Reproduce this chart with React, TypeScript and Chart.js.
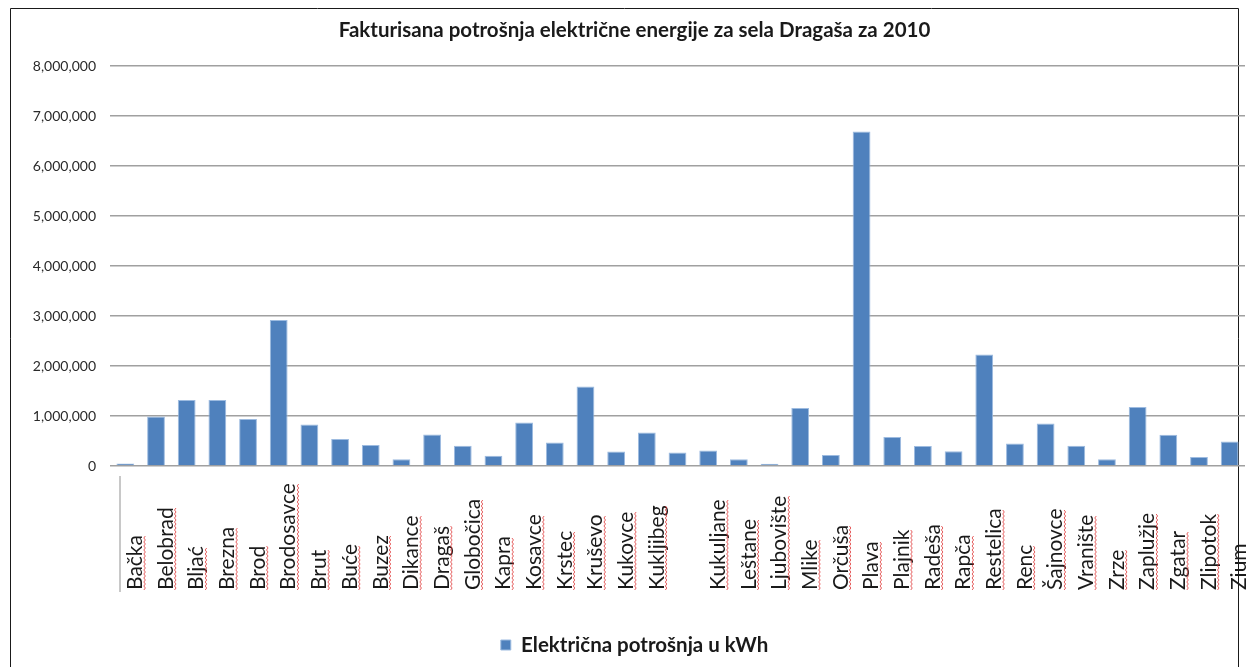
import React, { useEffect, useRef } from "react";
import { Chart, registerables } from "chart.js";

Chart.register(...registerables);

const TITLE = "Fakturisana potrošnja električne energije za sela Dragaša za 2010";
const SERIES_NAME = "Električna potrošnja u kWh";

const categories = [
  "Bačka", "Belobrad", "Bljać", "Brezna", "Brod", "Brodosavce", "Brut", "Buće",
  "Buzez", "Dikance", "Dragaš", "Globočica", "Kapra", "Kosavce", "Krstec",
  "Kruševo", "Kukovce", "Kukljibeg", "", "Kukuljane", "Leštane", "Ljubovište",
  "Mlike", "Orčuša", "Plava", "Plajnik", "Radeša", "Rapča", "Restelica", "Renc",
  "Šajnovce", "Vranište", "Zrze", "Zaplužje", "Zgatar", "Zlipotok", "Zium",
];

const consumption = [
  50000, 990000, 1320000, 1320000, 940000, 2920000, 830000, 540000,
  420000, 135000, 630000, 405000, 205000, 870000, 470000,
  1590000, 290000, 670000, 270000, 310000, 135000, 45000,
  1160000, 220000, 6690000, 580000, 400000, 295000, 2230000, 450000,
  850000, 405000, 135000, 1180000, 625000, 180000, 490000,
];

const yTicks = [0, 1000000, 2000000, 3000000, 4000000, 5000000, 6000000, 7000000, 8000000];

const BAR_COLOR = "#4f81bd";

const framePlugin = {
  id: "frame",
  beforeDraw(chart: any) {
    const ctx = chart.ctx;
    ctx.save();
    ctx.fillStyle = "#ffffff";
    ctx.fillRect(0, 0, chart.width, chart.height);
    ctx.strokeStyle = "#1a1a1a";
    ctx.lineWidth = 1;
    ctx.beginPath();
    ctx.moveTo(10.5, chart.height + 5);
    ctx.lineTo(10.5, 8.5);
    ctx.lineTo(1238.5, 8.5);
    ctx.lineTo(1238.5, chart.height + 5);
    ctx.stroke();
    ctx.restore();
  },
};

const xLabelPlugin = {
  id: "xLabels",
  afterDraw(chart: any) {
    const ctx = chart.ctx;
    const x = chart.scales.x;
    const baseY = 590;
    ctx.save();
    ctx.strokeStyle = "#c8c8c8";
    ctx.lineWidth = 2;
    ctx.beginPath();
    ctx.moveTo(120, 476);
    ctx.lineTo(120, 592);
    ctx.stroke();
    ctx.font = "21px Lato";
    ctx.fillStyle = "#1a1a1a";
    categories.forEach((lab, i) => {
      if (!lab) return;
      const px = x.getPixelForValue(i) + 10;
      ctx.save();
      ctx.translate(px, baseY);
      ctx.rotate(-Math.PI / 2);
      ctx.textAlign = "left";
      ctx.textBaseline = "middle";
      ctx.fillText(lab, 0, 0);
      const w = ctx.measureText(lab).width;
      ctx.strokeStyle = "rgba(220,40,40,0.75)";
      ctx.lineWidth = 1;
      ctx.beginPath();
      const off = 8.5;
      for (let t = 0; t <= w; t += 2) {
        const yy = off + ((t / 2) % 2 === 0 ? 0 : 1.5);
        if (t === 0) ctx.moveTo(t, yy);
        else ctx.lineTo(t, yy);
      }
      ctx.stroke();
      ctx.restore();
    });
    ctx.restore();
  },
};

export default function App() {
  const ref = useRef<HTMLCanvasElement>(null);
  useEffect(() => {
    document.body.style.margin = "0";
    const chart = new Chart(ref.current as HTMLCanvasElement, {
      type: "bar",
      data: {
        labels: categories,
        datasets: [
          {
            label: SERIES_NAME,
            data: consumption,
            backgroundColor: BAR_COLOR,
            borderColor: "#9dbbe0",
            borderWidth: 1,
            barPercentage: 0.58,
            categoryPercentage: 1,
          },
        ],
      },
      options: {
        responsive: false,
        animation: false,
        layout: { padding: { left: 24, right: 1, top: 0, bottom: 1.75 } },
        plugins: {
          title: {
            display: true,
            text: TITLE,
            color: "#1a1a1a",
            font: { family: "Lato", size: 20.5, weight: "bold" },
            padding: { top: 17.7, bottom: 23.7 },
          },
          legend: {
            position: "bottom",
            labels: {
              boxWidth: 10,
              boxHeight: 10,
              padding: 10,
              color: "#1a1a1a",
              font: { family: "Lato", size: 20.5, weight: "bold" },
            },
          },
          tooltip: { enabled: false },
        },
        scales: {
          x: {
            grid: { display: false },
            border: { display: false },
            ticks: { display: false },
            afterFit: (s: any) => {
              s.height = 158.75;
            },
          },
          y: {
            min: 0,
            max: 8000000,
            afterBuildTicks: (s: any) => {
              s.ticks = yTicks.map((v) => ({ value: v }));
            },
            ticks: {
              padding: 14,
              color: "#2a2a2a",
              font: { family: "Lato", size: 14 },
              callback: (v: any) => Number(v).toLocaleString("en-US"),
            },
            grid: { color: "#a0a0a0", lineWidth: 1.6, drawTicks: false },
            border: { display: false },
            afterFit: (s: any) => {
              s.width = 86;
            },
          },
        },
      },
      plugins: [framePlugin, xLabelPlugin],
    });
    return () => chart.destroy();
  }, []);
  return (
    <div style={{ position: "absolute", left: 0, top: 0, width: 1246, height: 667, background: "#fff" }}>
      <canvas ref={ref} width={1246} height={667} />
    </div>
  );
}
